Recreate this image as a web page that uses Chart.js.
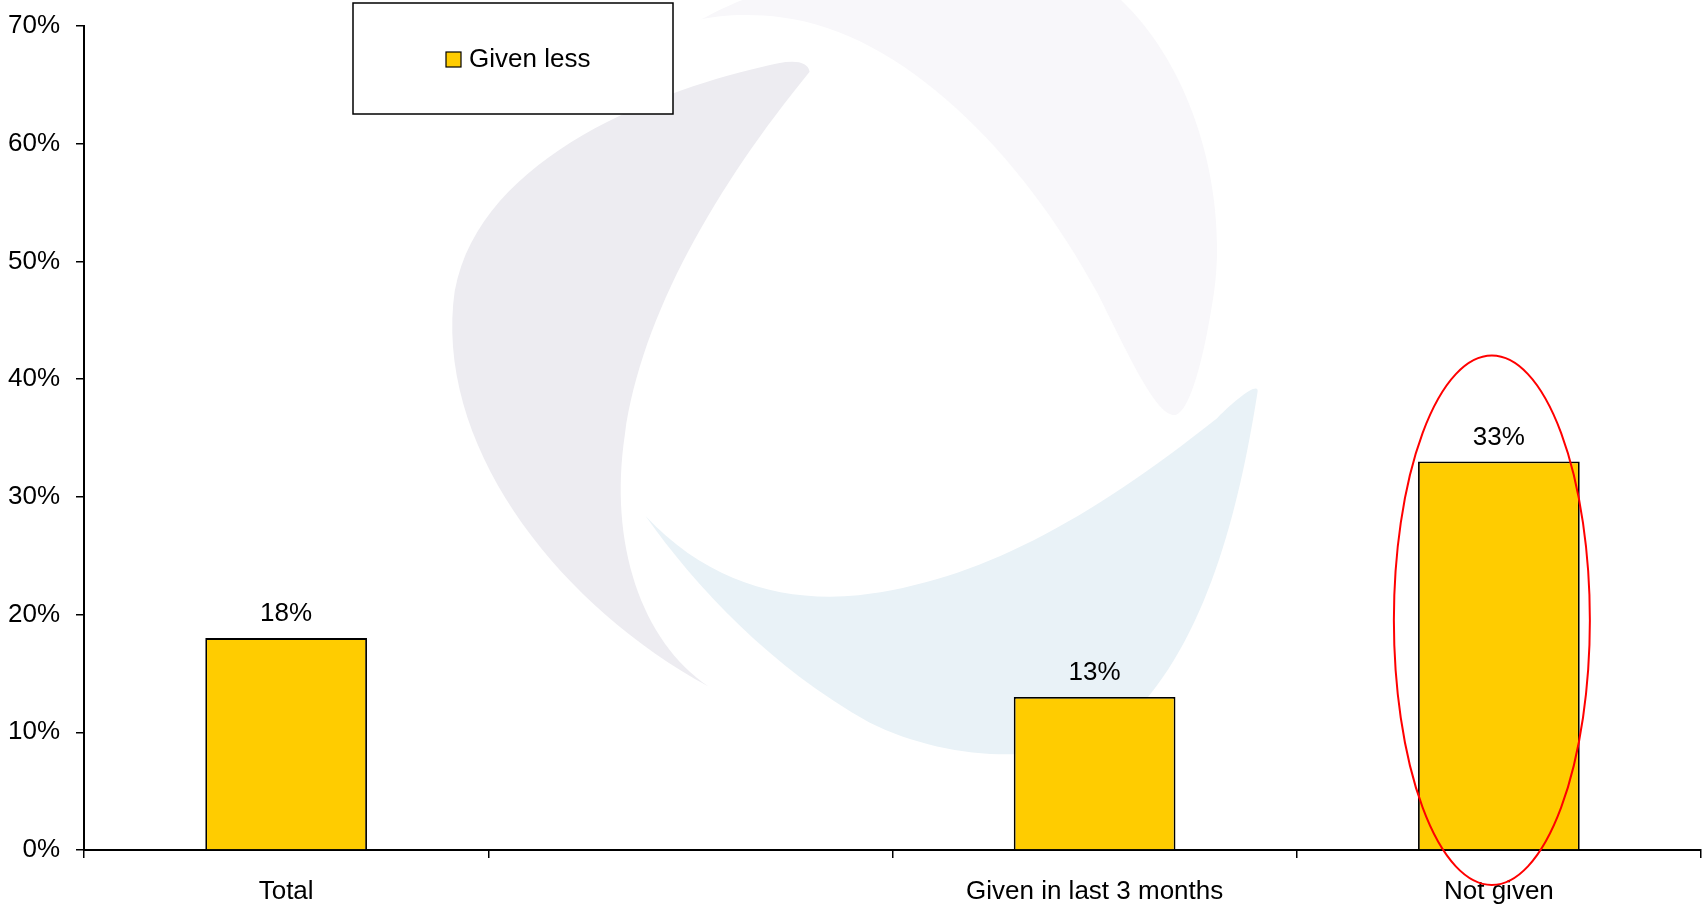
<!DOCTYPE html>
<html>
<head>
<meta charset="utf-8">
<script src="https://cdn.jsdelivr.net/npm/chart.js@4/dist/chart.umd.min.js"></script>
<style>
  html, body { margin: 0; padding: 0; background: #fff; }
  #wrap { width: 1704px; height: 906px; }
</style>
</head>
<body>
<div id="wrap"><canvas id="chart" width="1704" height="906"></canvas></div>
<script>
// data
const categories = ['Total', '', 'Given in last 3 months', 'Not given'];
const givenLess = [18, null, 13, 33];
const yTicks = [0, 10, 20, 30, 40, 50, 60, 70];
const seriesName = 'Given less';

const FONT = { family: 'Liberation Sans, Arial, sans-serif', size: 26 };
const BAR_COLOR = '#FFCC00';

// faint logo behind the plot
const watermark = {
  id: 'watermark',
  beforeDraw(chart) {
    const ctx = chart.ctx;
    ctx.save();
    ctx.fillStyle = '#fff';
    ctx.fillRect(0, 0, chart.width, chart.height);
    ctx.scale(1704 / 1568, 906 / 834);

    // light grey swoosh, top
    ctx.fillStyle = '#f8f7fa';
    ctx.beginPath();
    ctx.moveTo(645, 18);
    ctx.bezierCurveTo(670, 5, 690, -5, 710, -6);
    ctx.lineTo(1025, -6);
    ctx.bezierCurveTo(1100, 60, 1130, 180, 1117, 270);
    ctx.bezierCurveTo(1108, 330, 1095, 378, 1082, 382);
    ctx.bezierCurveTo(1065, 385, 1040, 330, 1010, 270);
    ctx.bezierCurveTo(940, 140, 830, 30, 720, 16);
    ctx.bezierCurveTo(690, 12, 660, 14, 645, 18);
    ctx.closePath();
    ctx.fill();

    // grey swoosh, left
    ctx.fillStyle = '#edecf1';
    ctx.beginPath();
    ctx.moveTo(745, 66);
    ctx.quadraticCurveTo(742, 50, 700, 62);
    ctx.bezierCurveTo(600, 85, 430, 150, 417, 280);
    ctx.bezierCurveTo(405, 420, 520, 560, 652, 632);
    ctx.bezierCurveTo(590, 590, 560, 500, 575, 400);
    ctx.bezierCurveTo(590, 290, 660, 170, 745, 66);
    ctx.closePath();
    ctx.fill();

    // light blue swoosh, bottom right
    ctx.fillStyle = '#e9f2f7';
    ctx.beginPath();
    ctx.moveTo(1157, 362);
    ctx.bezierCurveTo(1140, 470, 1110, 590, 1040, 660);
    ctx.bezierCurveTo(990, 705, 880, 705, 800, 665);
    ctx.bezierCurveTo(710, 615, 640, 540, 594, 475);
    ctx.bezierCurveTo(650, 535, 720, 555, 790, 548);
    ctx.bezierCurveTo(900, 535, 1000, 480, 1120, 385);
    ctx.bezierCurveTo(1140, 365, 1160, 350, 1157, 362);
    ctx.closePath();
    ctx.fill();
    ctx.restore();
  }
};

// value labels, boxed legend and the red ring
const extras = {
  id: 'extras',
  afterDatasetsDraw(chart) {
    const ctx = chart.ctx;
    const meta = chart.getDatasetMeta(0);
    const ds = chart.data.datasets[0];
    ctx.save();
    ctx.font = FONT.size + 'px ' + FONT.family;
    ctx.fillStyle = '#000';
    ctx.textAlign = 'center';
    ctx.textBaseline = 'middle';
    meta.data.forEach((bar, i) => {
      const v = ds.data[i];
      if (v == null) return;
      ctx.fillText(v + '%', bar.x, bar.y - 24);
    });

    // legend box
    ctx.fillStyle = '#fff';
    ctx.fillRect(353, 3, 320, 111);
    ctx.strokeStyle = '#000';
    ctx.lineWidth = 1.5;
    ctx.strokeRect(353, 3, 320, 111);
    ctx.fillStyle = BAR_COLOR;
    ctx.fillRect(446, 52, 15, 15);
    ctx.lineWidth = 1.2;
    ctx.strokeRect(446, 52, 15, 15);
    ctx.fillStyle = '#000';
    ctx.textAlign = 'left';
    ctx.fillText(ds.label, 469, 60);

    // ring around the last bar
    const last = meta.data[meta.data.length - 1];
    const y = chart.scales.y;
    const top = y.getPixelForValue(42);
    const bottom = y.bottom + 35;
    ctx.strokeStyle = '#ff0000';
    ctx.lineWidth = 2;
    ctx.beginPath();
    ctx.ellipse(last.x - 7, (top + bottom) / 2, 98, (bottom - top) / 2, 0, 0, Math.PI * 2);
    ctx.stroke();
    ctx.restore();
  }
};

new Chart(document.getElementById('chart'), {
  type: 'bar',
  data: {
    labels: categories,
    datasets: [{
      label: seriesName,
      data: givenLess,
      backgroundColor: BAR_COLOR,
      borderColor: '#000',
      borderWidth: 1.8,
      barPercentage: 0.4,
      categoryPercentage: 1.0
    }]
  },
  options: {
    responsive: false,
    animation: false,
    layout: { padding: { top: 26, right: 3, bottom: 0, left: 0 } },
    plugins: {
      legend: { display: false },
      tooltip: { enabled: false }
    },
    scales: {
      x: {
        afterFit(scale) { scale.height = 56; },
        grid: { offset: true, drawOnChartArea: false, tickLength: 8, color: '#000', lineWidth: 1.5 },
        border: { color: '#000', width: 2 },
        ticks: { font: FONT, color: '#000', padding: 18, maxRotation: 0, autoSkip: false }
      },
      y: {
        min: 0,
        max: 70,
        afterBuildTicks(scale) { scale.ticks = yTicks.map(v => ({ value: v })); },
        afterFit(scale) { scale.width = 84; scale.paddingTop = 0; scale.paddingBottom = 0; },
        grid: { drawOnChartArea: false, tickLength: 8, color: '#000', lineWidth: 1.5 },
        border: { color: '#000', width: 2 },
        ticks: { font: FONT, color: '#000', padding: 16, callback: v => v + '%' }
      }
    }
  },
  plugins: [watermark, extras]
});
</script>
</body>
</html>
